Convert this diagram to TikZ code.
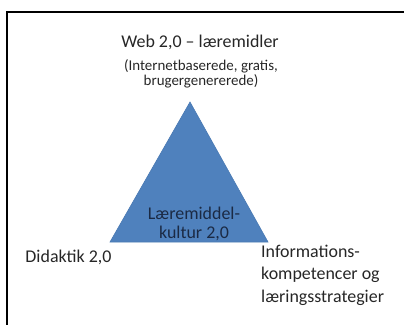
\documentclass[tikz,border=0pt]{standalone}
\usepackage{fontspec}
\setmainfont{Carlito}
\definecolor{triblue}{HTML}{4F81BD}
\definecolor{triedge}{HTML}{4A7AB3}
\definecolor{labelgray}{HTML}{262626}
\definecolor{labelnavy}{HTML}{1B2A44}
\begin{document}
\begin{tikzpicture}[x=1bp,y=-1bp]
  \useasboundingbox (0,0) rectangle (404,325);

  % frame, cut at right and bottom
  \coordinate (frameright) at (404,12);
  \coordinate (framecorner) at (7,12);
  \coordinate (framebottom) at (7,325);
  \draw[line width=2bp] (frameright) -- (framecorner) -- (framebottom);

  % triangle
  \coordinate (apex)  at (190,102);
  \coordinate (left)  at (110,242);
  \coordinate (right) at (268,242);
  \draw[fill=triblue,draw=triedge,line width=.6bp] (apex) -- (left) -- (right) -- cycle;

  \begin{scope}[every node/.style={inner sep=0pt,text=labelgray,
      font=\fontsize{18}{22.5}\selectfont}]
    \node[anchor=base] (web) at (200,47) {Web 2,0 -- læremidler};
    \node[align=center,font=\fontsize{15}{15.5}\selectfont] (webnote) at (201,74)
      {(Internetbaserede, gratis,\\brugergenererede)};
    \node[align=center,text=labelnavy,font=\fontsize{18}{19}\selectfont] (kultur) at (194,224)
      {Læremiddel-\\kultur 2,0};
    \node[anchor=base] (didaktik) at (68.5,262) {Didaktik 2,0};
    \node[anchor=west,align=left] (info) at (261,275)
      {Informations-\\kompetencer og\\læringsstrategier};
  \end{scope}

\end{tikzpicture}
\end{document}
